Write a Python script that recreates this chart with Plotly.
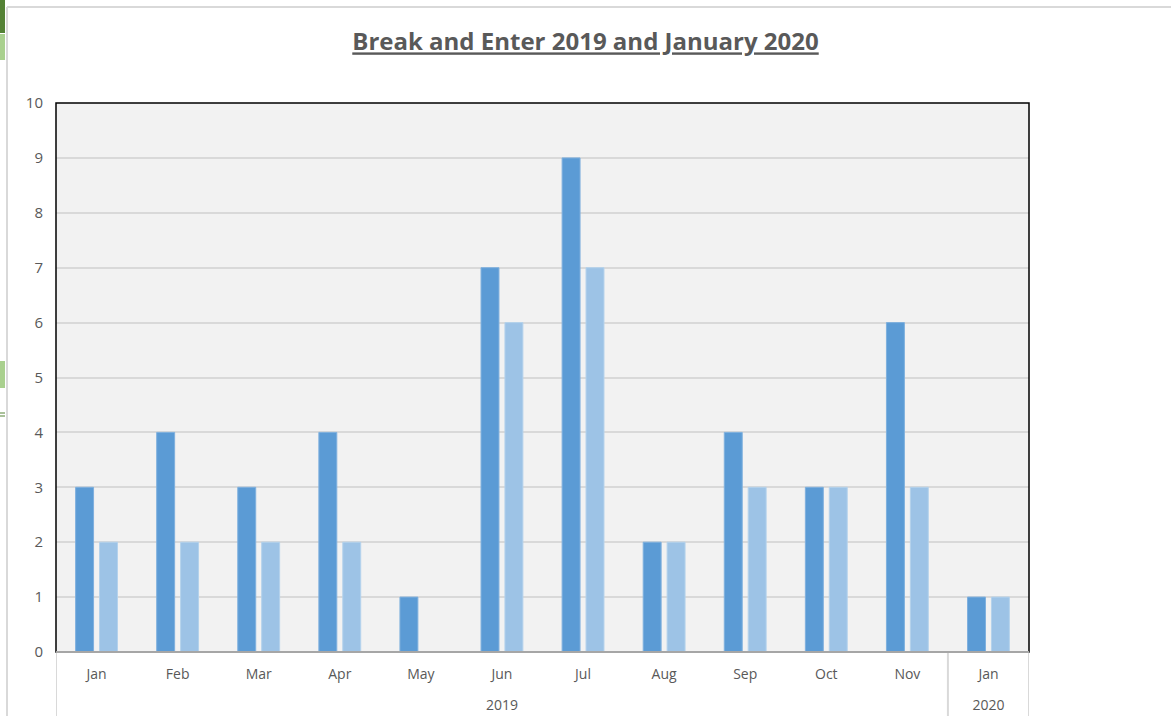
import plotly.graph_objects as go

years = ["2019"] * 11 + ["2020"]
months = ["Jan", "Feb", "Mar", "Apr", "May", "Jun", "Jul", "Aug", "Sep", "Oct", "Nov", "Jan"]
series_a = [3, 4, 3, 4, 1, 7, 9, 2, 4, 3, 6, 1]
series_b = [2, 2, 2, 2, 0, 6, 7, 2, 3, 3, 3, 1]

W, H = 1171, 716
L, R, T, B = 56, 1029, 103, 652


def px(x):
    return (x - L) / (R - L)


def py(y):
    return (B - y) / (B - T)


xpos = list(range(len(months)))

# year groups: centres and boundaries derived from the years list
groups = []
for i, yv in enumerate(years):
    if not groups or groups[-1][0] != yv:
        groups.append([yv, i, i])
    else:
        groups[-1][2] = i
year_centres = [(g[1] + g[2]) / 2 for g in groups]
year_labels = [g[0] for g in groups]
boundaries = [groups[0][1] - 0.5] + [g[2] + 0.5 for g in groups]

fig = go.Figure()
fig.add_trace(go.Bar(x=xpos, y=series_a, name="Series 1",
                     marker=dict(color="#5b9bd5", line=dict(color="#7fb0de", width=1))))
fig.add_trace(go.Bar(x=xpos, y=series_b, name="Series 2",
                     marker=dict(color="#9dc3e6", line=dict(color="#b4d2ec", width=1))))
# carrier trace so the year axis is drawn
fig.add_trace(go.Scatter(x=year_centres, y=[0] * len(year_centres), xaxis="x2", yaxis="y",
                         mode="markers", marker=dict(opacity=0, size=1),
                         hoverinfo="skip", showlegend=False))

shapes = [
    dict(type="rect", xref="x domain", yref="y domain", x0=0, x1=1, y0=0, y1=1,
         line=dict(color="black", width=1.5), layer="above"),
    dict(type="line", xref="x domain", yref="y domain", x0=0, x1=1, y0=0, y1=0,
         line=dict(color="#a6a6a6", width=2), layer="above"),
    # chart outer border
    dict(type="line", xref="paper", yref="paper", x0=px(7), x1=px(7), y0=py(7), y1=py(716),
         line=dict(color="#d9d9d9", width=2)),
    dict(type="line", xref="paper", yref="paper", x0=px(7), x1=px(1171), y0=py(7), y1=py(7),
         line=dict(color="#d9d9d9", width=2)),
    # spreadsheet artifacts at left
    dict(type="rect", xref="paper", yref="paper", x0=px(0), x1=px(5), y0=py(0), y1=py(33),
         fillcolor="#548235", line=dict(width=0)),
    dict(type="rect", xref="paper", yref="paper", x0=px(0), x1=px(5), y0=py(34), y1=py(60),
         fillcolor="#a9d08e", line=dict(width=0)),
    dict(type="rect", xref="paper", yref="paper", x0=px(0), x1=px(5), y0=py(361), y1=py(388),
         fillcolor="#a9d08e", line=dict(width=0)),
    dict(type="line", xref="paper", yref="paper", x0=px(0), x1=px(5), y0=py(413), y1=py(413),
         line=dict(color="#548235", width=1)),
    dict(type="line", xref="paper", yref="paper", x0=px(0), x1=px(5), y0=py(416), y1=py(416),
         line=dict(color="#548235", width=1)),
]
for bx in boundaries:
    shapes.append(dict(type="line", xref="x", yref="paper", x0=bx, x1=bx, y0=0, y1=py(716),
                       line=dict(color="#d9d9d9", width=2), layer="below"))

fig.update_layout(
    width=W, height=H,
    margin=dict(l=L, r=W - R, t=T, b=H - B, autoexpand=False),
    paper_bgcolor="white",
    plot_bgcolor="#f2f2f2",
    showlegend=False,
    barmode="group",
    bargap=0.41,
    bargroupgap=0.25,
    font=dict(family="Open Sans, Liberation Sans, sans-serif", color="#595959", size=14),
    title=dict(text="<b><u>Break and Enter 2019 and January 2020</u></b>",
               x=0.5, xref="container", xanchor="center",
               y=1 - 42 / H, yanchor="middle",
               font=dict(size=24, color="#595959", family="Open Sans, sans-serif")),
    shapes=shapes,
    xaxis=dict(
        range=[-0.5, len(months) - 0.5],
        tickmode="array", tickvals=xpos, ticktext=months,
        showgrid=False, zeroline=False, showline=False, ticks="",
        ticklabelstandoff=12, automargin=False,
        tickfont=dict(size=14, color="#595959"),
    ),
    xaxis2=dict(
        overlaying="x", matches="x", anchor="y", side="bottom",
        tickmode="array", tickvals=year_centres, ticktext=year_labels,
        showgrid=False, zeroline=False, showline=False, ticks="",
        ticklabelstandoff=43, automargin=False,
        tickfont=dict(size=14, color="#595959"),
    ),
    yaxis=dict(
        range=[0, 10], dtick=1,
        showgrid=True, gridcolor="#d9d9d9", gridwidth=1.5,
        zeroline=False, showline=False, ticks="",
        ticklabelstandoff=12, automargin=False,
        tickfont=dict(size=15, color="#595959"),
    ),
)

fig.write_html("out.html",
               config={"displayModeBar": False},
               post_script="document.body.style.margin='0';document.body.style.padding='0';")
